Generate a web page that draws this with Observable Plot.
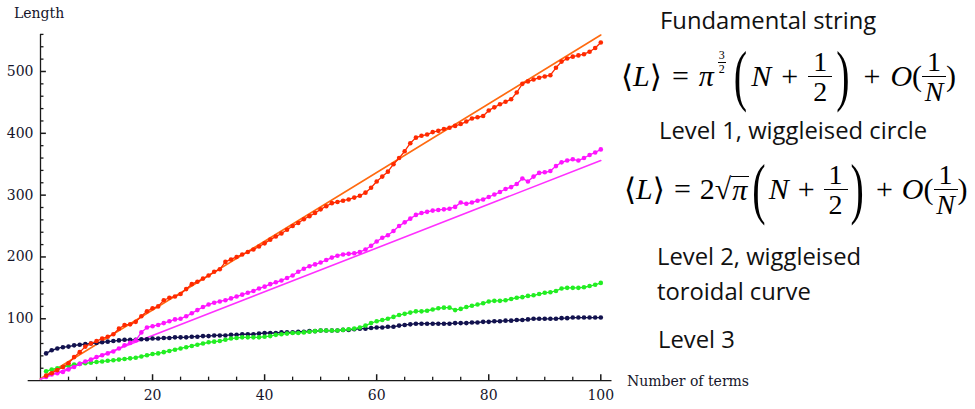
<!DOCTYPE html>
<html><head><meta charset="utf-8">
<script src="https://cdn.jsdelivr.net/npm/d3@7"></script>
<script src="https://cdn.jsdelivr.net/npm/@observablehq/plot@0.6"></script>
<style>
html,body{margin:0;padding:0;background:#fff}
#wrap{position:relative;width:975px;height:409px;overflow:hidden;background:#fff}
#chart svg{display:block}
.mm{position:absolute;font-family:"DejaVu Serif",serif;font-size:14px;color:#15152a;line-height:14px;white-space:nowrap}
.note{position:absolute;font-family:"Open Sans",sans-serif;font-size:23.8px;line-height:24px;color:#111;white-space:nowrap}
.eq{position:absolute;height:70px;display:flex;align-items:center;font-family:"Liberation Serif","DejaVu Serif",serif;font-size:30px;line-height:30px;color:#000;white-space:nowrap}
.eq i{font-style:italic}
.op{margin:0 10px}
.eq2 .op{margin:0 9px}
.frac{display:inline-flex;flex-direction:column;align-items:center;font-size:28px;line-height:29px}
.frac .num{border-bottom:1.3px solid #000;padding:0 5px 0}
.frac .den{padding-top:0}
.sup{display:inline-flex;flex-direction:column;align-items:center;font-size:12px;line-height:13px;align-self:flex-start;margin:8px 4px 0 4px}
.sup .num{border-bottom:0.8px solid #000;padding:0 1px}
.big{font-size:40px;line-height:40px;display:inline-block;transform:scaleY(1.7);margin:0 4px}
.eq2 .big{margin:0 3px}
.ang{font-family:"DejaVu Serif",serif;font-size:31px}
.rad{border-top:1.3px solid #000;line-height:26px;padding:0 2px 0 1px}
</style>
</head><body>
<div id="wrap">
  <div id="chart"></div>
  <div class="mm" style="left:14px;top:6px">Length</div>
  <div class="mm" style="left:627px;top:374px">Number of terms</div>
  <div class="note" style="left:660px;top:8px">Fundamental string</div>
  <div class="eq" style="left:621px;top:41px">
    <span class="ang">⟨</span><i>L</i><span class="ang">⟩</span>
    <span class="op">=</span>
    <i>π</i><span class="sup"><span class="num">3</span><span>2</span></span><span class="big">(</span><i>N</i><span class="op">+</span><span class="frac"><span class="num">1</span><span class="den">2</span></span><span class="big">)</span>
    <span class="op">+</span><i>O</i><span>(</span><span class="frac"><span class="num">1</span><i class="den">N</i></span><span>)</span>
  </div>
  <div class="note" style="left:659px;top:118px">Level 1, wiggleised circle</div>
  <div class="eq eq2" style="left:624px;top:154px">
    <span class="ang">⟨</span><i>L</i><span class="ang">⟩</span>
    <span class="op">=</span>
    <span>2</span><span>√</span><i class="rad">π</i>
    <span class="big">(</span><i>N</i><span class="op">+</span><span class="frac"><span class="num">1</span><span class="den">2</span></span><span class="big">)</span>
    <span class="op">+</span><i>O</i><span>(</span><span class="frac"><span class="num">1</span><i class="den">N</i></span><span>)</span>
  </div>
  <div class="note" style="left:657px;top:244px">Level 2, wiggleised</div>
  <div class="note" style="left:657px;top:279px">toroidal curve</div>
  <div class="note" style="left:658px;top:327px">Level 3</div>
</div>
<script>
const N = d3.range(1, 101);
const fundamental = [8,12,17,22,28,38,46,55,60,64, 68,71,75,84,90,91,95,104,112,117,
  120,130,134,136,140,148,156,160,165,170, 176,180,192,196,200,204,208,212,217,222,
  228,233,238,244,250,255,261,266,271,277, 282,287,289,291,293,296,299,304,312,322,
  330,338,350,360,371,384,393,396,398,402, 404,407,409,412,415,419,424,426,428,437,
  442,447,451,455,466,480,484,487,490,492, 494,506,516,521,524,526,528,532,538,547];
const level1 = [6,10,12,14,18,22,27,31,34,38, 41,44,47,52,57,61,65,78,86,88,
  90,93,96,99,100,104,109,114,119,123, 126,128,130,133,136,139,142,145,149,152,
  156,159,162,166,170,176,181,185,188,191, 195,199,202,204,205,206,208,212,218,225,
  231,235,242,250,256,262,268,271,273,275, 276,277,278,281,288,286,288,291,293,297,
  301,305,310,313,318,327,322,330,336,337, 339,347,353,356,358,356,360,365,369,374];
const level2 = [15,18,20,22,24,26,27,28,29,30, 31,32,33,34,35,36,37,39,41,43,
  44,46,48,50,52,54,56,58,60,62, 63,64,66,68,69,70,70,70,70,71,
  72,74,75,76,77,77,78,79,80,81, 81,81,81,82,83,84,86,89,93,96,
  98,100,103,106,108,110,112,112,113,115, 117,118,118,114,116,119,121,123,125,128,
  129,129,130,132,134,135,137,138,140,142, 143,145,149,150,150,150,151,153,155,158];
const level3 = [44,49,52,54,55,57,58,59,60,61, 62,63,64,65,66,66,66,67,67,68,
  68,69,69,70,70,70,71,71,72,72, 73,73,73,74,74,75,75,75,76,77,
  77,77,78,78,78,79,79,80,80,81, 81,81,81,82,82,83,84,84,85,86,
  86,87,87,89,90,91,92,92,92,92, 92,92,92,93,93,93,94,94,95,95,
  96,96,97,97,98,98,99,100,100,100, 100,100,101,101,102,102,102,102,102,102];
const fitN = [0, 100];
const fitFundamental = [3, 559];
const fitLevel1 = [2, 356];
const yMajor = [100, 200, 300, 400, 500];
const yMinor = [20,40,60,80,120,140,160,180,220,240,260,280,320,340,360,380,420,440,460,480,520,540,560];
const xMajor = [20, 40, 60, 80, 100];
const xMinor = [5,10,15,25,30,35,45,50,55,65,70,75,85,90,95];

const rows = (xs, vs) => xs.map((n, i) => ({n, v: vs[i]}));
const seriesList = [
  {values: level3, color: "#12124e"},
  {values: level2, color: "#22ee22"},
  {values: level1, color: "#ff14ff"},
  {values: fundamental, color: "#ff2a00"}
];
const axisColor = "#1a1a1a";
const marks = [
  Plot.ruleX([0], {y1: 0, y2: 560, stroke: axisColor, strokeWidth: 1.3}),
  Plot.ruleY([0], {x1: -2.2, x2: 102, stroke: axisColor, strokeWidth: 1.3}),
  // inward tick marks
  Plot.ruleY(yMajor, {x1: 0, x2: 1.05, stroke: axisColor, strokeWidth: 1.5}),
  Plot.ruleY(yMinor, {x1: 0, x2: 0.62, stroke: axisColor, strokeWidth: 1.3}),
  Plot.ruleX(xMajor, {y1: 0, y2: 9.5, stroke: axisColor, strokeWidth: 1.5}),
  Plot.ruleX(xMinor, {y1: 0, y2: 5.6, stroke: axisColor, strokeWidth: 1.3}),
  // tick labels
  Plot.axisY(yMajor, {tickSize: 0, tickPadding: 7, fontSize: 14, fontFamily: "DejaVu Serif", fill: "#15152a", label: null}),
  Plot.axisX(xMajor, {tickSize: 0, tickPadding: 9.5, fontSize: 14, fontFamily: "DejaVu Serif", fill: "#15152a", label: null}),
  Plot.line(rows(fitN, fitFundamental), {x: "n", y: "v", stroke: "#ff6a10", strokeWidth: 1.6}),
  Plot.line(rows(fitN, fitLevel1), {x: "n", y: "v", stroke: "#ff30ff", strokeWidth: 1.6})
];
for (const s of seriesList) {
  const d = rows(N, s.values);
  marks.push(Plot.line(d, {x: "n", y: "v", stroke: s.color, strokeWidth: 1.3}));
  marks.push(Plot.dot(d, {x: "n", y: "v", r: 2.3, fill: s.color, stroke: "none"}));
}
const chart = Plot.plot({
  width: 975, height: 409,
  marginLeft: 40, marginRight: 363.5, marginTop: 33.9, marginBottom: 28.9,
  x: {domain: [0, 102]},
  y: {domain: [0, 560]},
  style: {background: "white", overflow: "visible"},
  marks
});
document.getElementById("chart").appendChild(chart);
</script>
</body></html>
